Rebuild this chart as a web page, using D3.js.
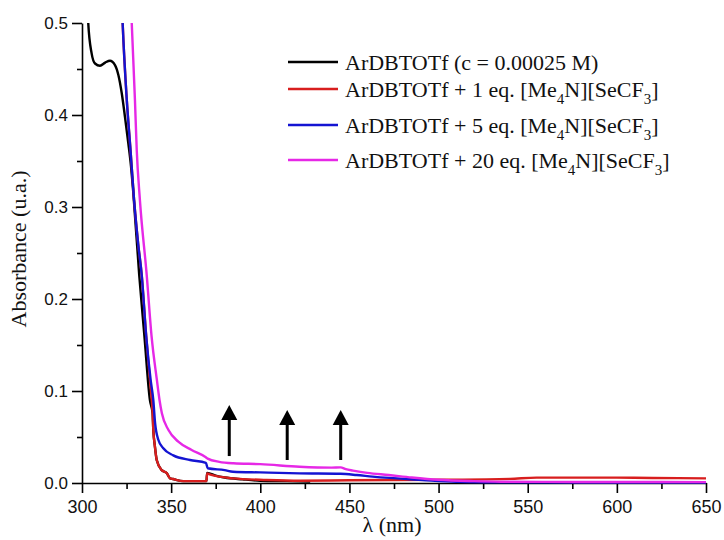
<!DOCTYPE html>
<html>
<head>
<meta charset="utf-8">
<script src="https://cdn.jsdelivr.net/npm/d3@7/dist/d3.min.js"></script>
<style>
  html, body { margin: 0; padding: 0; background: #fff; }
  svg { display: block; }
</style>
</head>
<body>
<svg id="chart" width="724" height="540"></svg>
<script>
// ---------------- DATA ----------------
const blackNm  = [302.8, 303.5, 305.4, 307.3, 310.1, 313.0, 315.7, 318.5, 320.4, 322.3, 324.1, 326.0, 327.5, 328.8, 332.1, 335.0, 338.1, 339.6, 340.0, 340.9, 341.9, 344.7, 347.5, 349.4, 351.0, 356.8, 369.8, 370.2, 375.0, 380.0, 390.0, 400.0, 415.0, 428.0];
const blackAbs = [0.530, 0.500, 0.467, 0.456, 0.4536, 0.457, 0.459, 0.4543, 0.4435, 0.4236, 0.398, 0.369, 0.344, 0.315, 0.226, 0.160, 0.090, 0.0757, 0.0576, 0.0395, 0.025, 0.014, 0.0109, 0.005, 0.0043, 0.002, 0.002, 0.011, 0.008, 0.006, 0.004, 0.0025, 0.002, 0.0015];

const redNm  = [322.4, 322.8, 325.1, 327.2, 329.2, 331.5, 333.5, 336.0, 338.2, 339.6, 340.0, 340.9, 341.9, 344.7, 347.5, 349.4, 351.0, 356.8, 369.8, 370.2, 372.0, 384.7, 403.6, 422.3, 450.0, 500.0, 540.0, 555.0, 600.0, 620.0, 650.0];
const redAbs = [0.520, 0.500, 0.417, 0.362, 0.308, 0.260, 0.226, 0.160, 0.110, 0.0757, 0.0576, 0.0395, 0.025, 0.014, 0.0109, 0.005, 0.0043, 0.002, 0.002, 0.0105, 0.009, 0.005, 0.0033, 0.0025, 0.003, 0.0035, 0.0045, 0.0058, 0.0058, 0.0055, 0.005];

const blueNm  = [322.4, 322.8, 325.1, 327.2, 329.2, 331.5, 333.5, 336.0, 338.5, 340.0, 341.0, 342.8, 345.6, 351.2, 360.6, 369.5, 370.5, 380.0, 384.7, 400.0, 422.0, 445.0, 454.0, 463.0, 491.0, 510.0, 540.0, 600.0, 650.0];
const blueAbs = [0.520, 0.500, 0.417, 0.362, 0.308, 0.260, 0.226, 0.160, 0.112, 0.090, 0.065, 0.047, 0.0377, 0.030, 0.025, 0.022, 0.016, 0.014, 0.0123, 0.0115, 0.0105, 0.0100, 0.0087, 0.0069, 0.0033, 0.0014, 0.0008, 0.0005, 0.0004];

const magentaNm  = [327.5, 327.9, 329.7, 330.7, 332.5, 336.3, 339.0, 342.0, 343.5, 344.8, 348.5, 354.0, 361.5, 369.0, 370.5, 377.0, 385.0, 400.0, 422.0, 440.0, 445.0, 448.0, 452.0, 460.0, 472.0, 485.0, 500.0, 520.0, 535.0, 560.0, 600.0, 650.0];
const magentaAbs = [0.520, 0.500, 0.416, 0.362, 0.307, 0.226, 0.160, 0.112, 0.090, 0.0757, 0.0576, 0.0449, 0.0359, 0.0286, 0.0265, 0.023, 0.0214, 0.0205, 0.0177, 0.0167, 0.0170, 0.0150, 0.0135, 0.011, 0.0087, 0.0060, 0.0035, 0.0020, 0.0014, 0.0012, 0.0011, 0.0010];

const seriesLabels = [
  ["ArDBTOTf (c = 0.00025 M)"],
  ["ArDBTOTf + 1 eq. [Me", "4", "N][SeCF", "3", "]"],
  ["ArDBTOTf + 5 eq. [Me", "4", "N][SeCF", "3", "]"],
  ["ArDBTOTf + 20 eq. [Me", "4", "N][SeCF", "3", "]"]
];

const xTickValues = [300, 350, 400, 450, 500, 550, 600, 650];
const xTickLabels = ["300", "350", "400", "450", "500", "550", "600", "650"];
const xMinorTicks = [325, 375, 425, 475, 525, 575, 625];
const yTickValues = [0.0, 0.1, 0.2, 0.3, 0.4, 0.5];
const yTickLabels = ["0.0", "0.1", "0.2", "0.3", "0.4", "0.5"];
const yMinorTicks = [0.05, 0.15, 0.25, 0.35, 0.45];

// arrows (annotation) in data coordinates
const arrowNm     = [382.6, 415.1, 445.1];
const arrowBottom = [0.0293, 0.025, 0.025];
const arrowTop    = [0.0848, 0.0793, 0.0793];

const xTitle = "λ (nm)";
const yTitle = "Absorbance (u.a.)";

// ---------------- LAYOUT / STYLE ----------------
const colors = ["#000000", "#d81e1e", "#1414d2", "#e628e6"];
const svg = d3.select("#chart");
const x = d3.scaleLinear().domain([300, 650]).range([82, 706]);
const y = d3.scaleLinear().domain([0, 0.5]).range([483, 23]);

const tickFont = "'Liberation Sans', Arial, sans-serif";
const serifFont = "'Liberation Serif', 'Times New Roman', serif";

// clip
svg.append("defs").append("clipPath").attr("id", "plotclip")
  .append("rect").attr("x", x(300)).attr("y", y(0.5))
  .attr("width", x(650) - x(300) + 2).attr("height", y(0) - y(0.5) + 3);

// axes
const xAxis = svg.append("g").attr("transform", `translate(0,${y(0)})`)
  .call(d3.axisBottom(x).tickValues(xTickValues).tickFormat((d, i) => xTickLabels[i]).tickSize(10).tickSizeOuter(0).tickPadding(7));
svg.append("g").attr("transform", `translate(0,${y(0)})`)
  .call(d3.axisBottom(x).tickValues(xMinorTicks).tickFormat("").tickSize(6).tickSizeOuter(0))
  .select(".domain").remove();

const yAxis = svg.append("g").attr("transform", `translate(${x(300)},0)`)
  .call(d3.axisLeft(y).tickValues(yTickValues).tickFormat((d, i) => yTickLabels[i]).tickSize(10).tickSizeOuter(0).tickPadding(4));
svg.append("g").attr("transform", `translate(${x(300)},0)`)
  .call(d3.axisLeft(y).tickValues(yMinorTicks).tickFormat("").tickSize(5).tickSizeOuter(0))
  .select(".domain").remove();

svg.selectAll(".domain, .tick line").attr("stroke", "#000").attr("stroke-width", 1.6);
xAxis.selectAll(".tick text").attr("font-family", tickFont).attr("font-size", 18).attr("fill", "#111");
yAxis.selectAll(".tick text").attr("font-family", tickFont).attr("font-size", 17).attr("fill", "#111");

// axis titles
svg.append("text").attr("x", 392).attr("y", 532).attr("text-anchor", "middle")
  .style("font-family", serifFont).attr("font-size", 22).attr("fill", "#111").text(xTitle);
svg.append("text").attr("transform", "translate(26,249) rotate(-90)").attr("text-anchor", "middle")
  .style("font-family", serifFont).attr("font-size", 22).attr("fill", "#111").text(yTitle);

// lines
const line = d3.line().x(d => x(d[0])).y(d => y(d[1])).curve(d3.curveMonotoneX);
const series = [
  {nm: blackNm, abs: blackAbs, color: colors[0]},
  {nm: redNm, abs: redAbs, color: colors[1]},
  {nm: blueNm, abs: blueAbs, color: colors[2]},
  {nm: magentaNm, abs: magentaAbs, color: colors[3]}
];
const plot = svg.append("g").attr("clip-path", "url(#plotclip)");
series.forEach(s => {
  plot.append("path")
    .datum(s.nm.map((v, i) => [v, s.abs[i]]))
    .attr("d", line)
    .attr("fill", "none")
    .attr("stroke", s.color)
    .attr("stroke-width", 2.4)
    .attr("stroke-linejoin", "round");
});

// arrows
const headW = 16, headH = 15;
arrowNm.forEach((nm, i) => {
  const ax = x(nm), yb = y(arrowBottom[i]), yt = y(arrowTop[i]);
  svg.append("line").attr("x1", ax).attr("x2", ax).attr("y1", yb).attr("y2", yt + headH - 1)
    .attr("stroke", "#000").attr("stroke-width", 3);
  svg.append("path")
    .attr("d", `M${ax},${yt} L${ax + headW / 2},${yt + headH} L${ax - headW / 2},${yt + headH} Z`)
    .attr("fill", "#000");
});

// legend
const legendBaselines = [70, 97, 133, 168];
seriesLabels.forEach((parts, i) => {
  const by = legendBaselines[i];
  svg.append("line").attr("x1", 288).attr("x2", 338).attr("y1", by - 8).attr("y2", by - 8)
    .attr("stroke", colors[i]).attr("stroke-width", 2.5);
  const t = svg.append("text").attr("x", 345).attr("y", by)
    .style("font-family", serifFont).attr("font-size", 22).attr("fill", "#111");
  parts.forEach((p, j) => {
    if (j % 2 === 1) {
      t.append("tspan").attr("font-size", 15).attr("dy", 7).text(p);
    } else {
      t.append("tspan").attr("dy", j === 0 ? 0 : -7).text(p);
    }
  });
});
</script>
</body>
</html>
